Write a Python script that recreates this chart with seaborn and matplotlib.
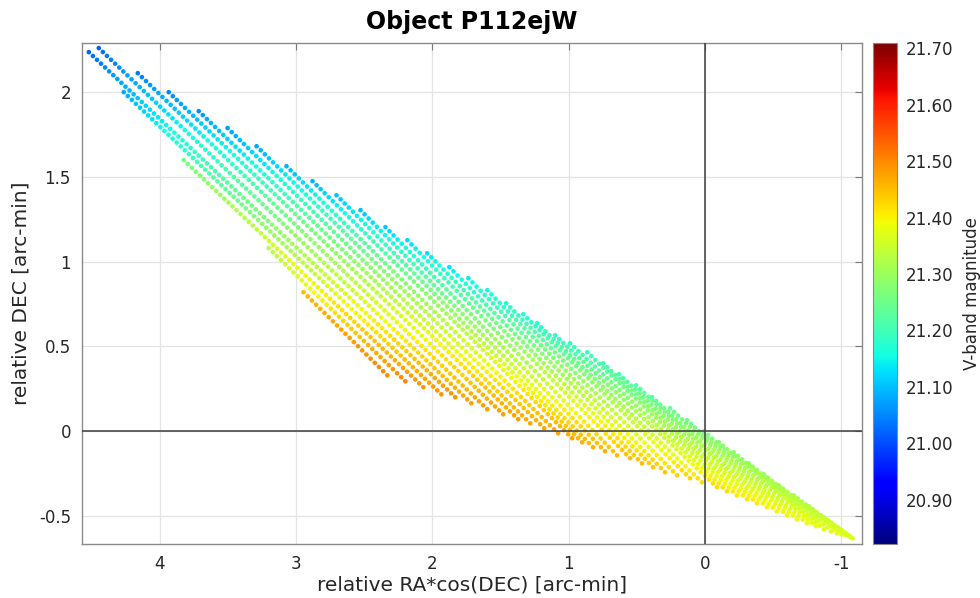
import numpy as np
import pandas as pd
import seaborn as sns
import matplotlib
matplotlib.use('Agg')
import matplotlib.pyplot as plt
from matplotlib.colors import Normalize
from matplotlib.cm import ScalarMappable

# rows of dots: upper-left end -> lower-right end
ra0 = [2.945, 3.201, 3.824, 4.264, 4.520, 4.447, 4.161, 3.934, 3.714, 3.502,
       3.289, 3.070, 2.879, 2.703, 2.527, 2.344, 2.183, 2.037, 1.875, 1.736,
       1.597, 1.458, 1.333, 1.231, 1.099, 0.989, 0.864, 0.747, 0.630, 0.505,
       0.388, 0.256, 0.132, 0.007, -0.103, -0.212, -0.322, -0.432, -0.542,
       -0.652, -0.762, -0.872, -0.974]
dec0 = [0.820, 1.080, 1.599, 2.000, 2.236, 2.260, 2.112, 2.000, 1.888, 1.788,
        1.681, 1.563, 1.475, 1.392, 1.304, 1.204, 1.127, 1.050, 0.968, 0.903,
        0.832, 0.755, 0.690, 0.637, 0.566, 0.519, 0.466, 0.401, 0.336, 0.271,
        0.201, 0.136, 0.065, 0.000, -0.065, -0.124, -0.189, -0.254, -0.319,
        -0.378, -0.442, -0.507, -0.566]
ra1 = [2.330, 2.198, 2.066, 1.934, 1.832, 1.714, 1.597, 1.480, 1.370, 1.282,
       1.179, 1.077, 0.974, 0.901, 0.821, 0.733, 0.645, 0.549, 0.462, 0.381,
       0.293, 0.205, 0.110, 0.022, -0.088, -0.161, -0.234, -0.308, -0.381,
       -0.454, -0.527, -0.601, -0.674, -0.747, -0.813, -0.872, -0.923, -0.967,
       -1.003, -1.033, -1.055, -1.070, -1.084]
dec1 = [0.330, 0.295, 0.260, 0.218, 0.201, 0.165, 0.130, 0.100, 0.071, 0.047,
        0.018, -0.012, -0.041, -0.065, -0.094, -0.118, -0.142, -0.159, -0.189,
        -0.212, -0.242, -0.260, -0.277, -0.301, -0.330, -0.354, -0.378, -0.401,
        -0.425, -0.448, -0.472, -0.496, -0.519, -0.543, -0.560, -0.578, -0.590,
        -0.602, -0.608, -0.614, -0.619, -0.625, -0.631]
mag0 = [21.45, 21.32, 21.25, 21.08, 21.02, 21.02, 21.04, 21.05, 21.06, 21.07,
        21.08, 21.09, 21.09, 21.10, 21.10, 21.11, 21.12, 21.13, 21.13, 21.14,
        21.15, 21.16, 21.16, 21.17, 21.18, 21.18, 21.19, 21.20, 21.21, 21.22,
        21.23, 21.24, 21.25, 21.26, 21.27, 21.28, 21.29, 21.30, 21.31, 21.32,
        21.33, 21.35, 21.36]
mag1 = [21.50, 21.50, 21.49, 21.49, 21.49, 21.48, 21.48, 21.48, 21.48, 21.47,
        21.47, 21.47, 21.47, 21.46, 21.46, 21.46, 21.45, 21.45, 21.45, 21.44,
        21.44, 21.43, 21.43, 21.42, 21.42, 21.42, 21.41, 21.41, 21.41, 21.40,
        21.40, 21.40, 21.39, 21.39, 21.39, 21.38, 21.38, 21.38, 21.38, 21.37,
        21.37, 21.37, 21.37]

ra_ticks = [4, 3, 2, 1, 0, -1]
dec_ticks = [-0.5, 0, 0.5, 1, 1.5, 2]
mag_ticks = [20.90, 21.00, 21.10, 21.20, 21.30, 21.40, 21.50, 21.60, 21.70]
mag_range = (20.822, 21.709)

step = 0.03  # dot spacing along RA
ra, dec, mag = [], [], []
for i in range(len(ra0)):
    n = int(round(abs(ra0[i] - ra1[i]) / step)) + 1
    t = np.linspace(0, 1, n)
    ra += list(ra0[i] + (ra1[i] - ra0[i]) * t)
    dec += list(dec0[i] + (dec1[i] - dec0[i]) * t)
    mag += list(mag0[i] + (mag1[i] - mag0[i]) * t ** 0.85)
df = pd.DataFrame({'ra': ra, 'dec': dec, 'mag': mag})

jet = plt.get_cmap('jet')

sns.set_style('white')
plt.rcParams['font.family'] = ['DejaVu Sans']
txt = '#262626'

fig = plt.figure(figsize=(9.8, 5.98), dpi=100)
ax = fig.add_axes([0.0837, 0.0903, 0.796, 0.8378])
sns.scatterplot(data=df, x='ra', y='dec', hue='mag', palette=jet,
                hue_norm=mag_range, s=11, linewidth=0, legend=False,
                ax=ax, zorder=3)
ax.axhline(0, color='#3c3c3c', lw=1.1, zorder=4)
ax.axvline(0, color='#3c3c3c', lw=1.1, zorder=4)

ax.set_xlim(4.57, -1.153)
ax.set_ylim(-0.665, 2.29)
ax.set_xticks(ra_ticks)
ax.set_yticks(dec_ticks)
ax.set_xticklabels([str(v) for v in ra_ticks])
ax.set_yticklabels(['-0.5', '0', '0.5', '1', '1.5', '2'])
ax.grid(True, color='#e3e3e3', lw=0.9, zorder=0)
ax.set_axisbelow(True)
ax.tick_params(direction='in', length=5, width=0.8, color='#7a7a7a',
               labelsize=12, labelcolor=txt, top=True, right=True, pad=8)
for sp in ax.spines.values():
    sp.set_color('#8a8a8a')
    sp.set_linewidth(1.0)
ax.set_xlabel('relative RA*cos(DEC) [arc-min]', fontsize=14.5, color=txt, labelpad=2)
ax.set_ylabel('relative DEC [arc-min]', fontsize=14.5, color=txt, labelpad=6)
ax.set_title('Object P112ejW', fontsize=17, fontweight='bold', color='black', pad=10)

cax = fig.add_axes([0.8908, 0.0903, 0.0245, 0.8378])
sm = ScalarMappable(norm=Normalize(*mag_range), cmap=jet)
cb = fig.colorbar(sm, cax=cax)
cb.set_ticks(mag_ticks)
cb.set_ticklabels(['%.2f' % v for v in mag_ticks])
cb.outline.set_edgecolor('#8a8a8a')
cb.ax.tick_params(direction='in', length=3, width=0.8, color='#555555',
                  labelsize=12, labelcolor=txt, pad=6)
cb.set_label('V-band magnitude', fontsize=12, color=txt, labelpad=7)

plt.savefig('out.png', dpi=100)
